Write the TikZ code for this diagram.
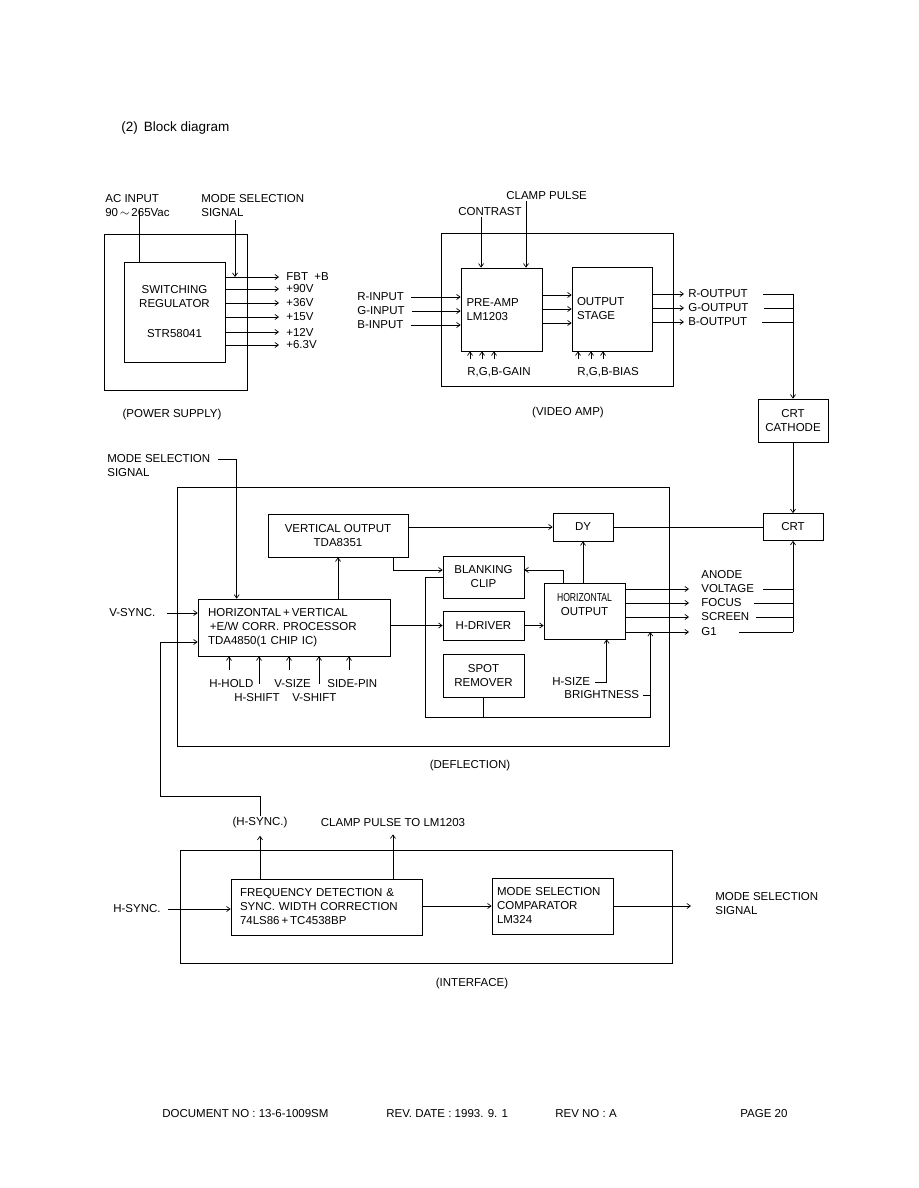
\documentclass[tikz,border=0pt]{standalone}
\usepackage{fontspec}
\setmainfont{Liberation Sans}
\usepackage{graphicx}
\usetikzlibrary{calc, positioning}
\usetikzlibrary{arrows.meta}

\begin{document}
\begin{tikzpicture}[x=1pt, y=-1pt, line width=0.7pt,
	font=\fontsize{11.5}{14}\selectfont,
	>={Straight Barb[length=3.5pt,width=5pt]},
	blk/.style={draw, inner sep=0pt, align=center},
	lblk/.style={draw, inner ysep=0pt, align=left},
	lbl/.style={inner sep=1pt, anchor=west, align=left},
	capt/.style={inner sep=1pt}]
	\fill[white] (0,0) rectangle (918,1188);
	\useasboundingbox (0,0) rectangle (918,1188);
	
	\node[lbl, font=\fontsize{13.5}{15}\selectfont] (title) at (120,128) {(2)\hspace{6pt}Block diagram};
	
	% power supply
	\draw (104,234) rectangle (247,390);
	\node[blk, minimum width=101, minimum height=100] (swreg) at (174.5,312) {SWITCHING\\REGULATOR\\[16pt]STR58041};
	\node[lbl] (acin) at (104,205.5) {AC INPUT\\90$\,\sim\,$265Vac};
	\node[lbl] (psmode) at (200,205.5) {MODE SELECTION\\SIGNAL};
	\coordinate (acpt) at (139,210);
	\draw (acpt) -- (acpt |- swreg.north);
	\foreach \n/\y/\t in {fbt/277/FBT\ \ +B, p90/289/+90V, p36/303/+36V, p15/317/+15V, p12/332/+12V, p63/345/+6.3V} {
		\node[lbl] (\n) at (285,\y) {\t};
		\draw[->, shorten >=6pt] (swreg.east |- \n) -- (\n.west);
	}
	\coordinate (psmodept) at (235,220);
	\draw[->] (psmodept) -- (psmodept |- fbt);
	\node[capt] (pslabel) at (172,415) {(POWER SUPPLY)};
	
	% video amp
	\draw (441,233) rectangle (673,386);
	\node[lblk, text width=70, inner xsep=5.5, minimum height=83] (preamp) at (501.5,309.5) {PRE-AMP\\LM1203};
	\node[lblk, text width=70, inner xsep=5, minimum height=84] (outstage) at (612,309) {OUTPUT\\STAGE};
	\node[capt, anchor=east] (contrast) at (523,212) {CONTRAST};
	\node[lbl] (clamp) at (505,196) {CLAMP PULSE};
	\coordinate (ctin) at ($(preamp.north west)!0.25!(preamp.north east)$);
	\coordinate (clampin) at ($(preamp.north west)!0.8!(preamp.north east)$);
	\draw[->] (ctin |- contrast.south) -- (ctin);
	\draw[->] (clampin |- clamp.south) -- (clampin);
	\foreach \n/\y/\t in {rin/297/R-INPUT, gin/311/G-INPUT, bin/325/B-INPUT} {
		\node[lbl] (\n) at (356,\y) {\t};
		\draw[->, shorten <=6pt] (\n.east) -- (\n -| preamp.west);
	}
	\foreach \y in {295,309,323}
		\draw[->] (preamp.east |- 0,\y) -- (outstage.west |- 0,\y);
	\foreach \x in {470,482,494}
		\draw[->] (\x,359) -- (\x,359 |- preamp.south);
	\foreach \x in {578,591,603}
		\draw[->] (\x,359) -- (\x,359 |- outstage.south);
	\node[lbl] (gain) at (466,372) {R,G,B-GAIN};
	\node[lbl] (bias) at (576,372) {R,G,B-BIAS};
	\node[capt] (valabel) at (568,413) {(VIDEO AMP)};
	\node[blk, minimum width=70, minimum height=43] (cathode) at (793,420.5) {CRT\\CATHODE};
	\foreach \n/\y/\t in {rout/294/R-OUTPUT, gout/308/G-OUTPUT, bout/322/B-OUTPUT} {
		\node[lbl] (\n) at (687,\y) {\t};
		\draw[->, shorten >=3pt] (outstage.east |- \n) -- (\n.west);
		\draw[shorten <=14pt] (\n.east) -- (\n -| cathode);
	}
	\draw[->] (rout -| cathode) -- (cathode.north);
	
	% deflection
	\draw (177,487) rectangle (669,746);
	\node[lbl] (dfmode) at (106,466) {MODE SELECTION\\SIGNAL};
	\node[lblk, text width=172, inner xsep=10, minimum height=57] (proc) at (294,627.5) {HORIZONTAL\,+\,VERTICAL\\\,+E/W CORR. PROCESSOR\\TDA4850(1 CHIP IC)};
	\coordinate (dfmodept) at (218,459);
	\draw[->] (dfmodept) -| ($(proc.north west)+(39,0)$);
	\node[lbl] (vsync) at (108,613) {V-SYNC.};
	\draw[->, shorten <=10pt] (vsync.east) -- (vsync -| proc.west);
	\node[blk, minimum width=140, minimum height=43] (vout) at (338,535.5) {VERTICAL OUTPUT\\TDA8351};
	\node[blk, minimum width=60, minimum height=28] (dy) at (583,527) {DY};
	\node[blk, minimum width=81, minimum height=42] (blank) at (483.5,577) {BLANKING\\CLIP};
	\node[blk, minimum width=81, minimum height=29] (hdrv) at (483.5,625.5) {H-DRIVER};
	\node[blk, minimum width=81, minimum height=43] (spot) at (483.5,675.5) {SPOT\\REMOVER};
	\node[blk, minimum width=81, minimum height=56] (hout) at (584.5,611) {\scalebox{0.75}[1]{HORIZONTAL}\\OUTPUT\\\mbox{}};
	\node[blk, minimum width=60, minimum height=27] (crt) at (793,527) {CRT};
	\coordinate (blankin) at ($(blank.west)+(0,-7)$);
	\draw[->] (proc.north -| vout) -- (vout.south);
	\draw[->] (vout.east |- dy) -- (dy.west);
	\draw[->] ($(vout.south east)+(-15,0)$) |- (blankin);
	\draw[->] ($(hout.north west)+(20,0)$) |- (blank.east |- blankin);
	\draw[->] (hout.north -| dy) -- (dy.south);
	\draw[->] (proc.east |- hdrv) -- (hdrv.west);
	\draw[->] (hdrv.east) -- (hdrv.east -| hout.west);
	\draw (dy.east) -- (crt.west);
	\draw[->] (cathode.south) -- (crt.north);
	\node[lbl] (anode) at (700,575) {ANODE};
	\foreach \n/\y/\t/\s in {volt/589/VOLTAGE/8pt, focus/603/FOCUS/11pt, screen/617/SCREEN/5pt, g1/632/G1/21pt} {
		\node[lbl] (\n) at (700,\y) {\t};
		\draw[->, shorten >=11pt] (hout.east |- \n) -- (\n.west);
		\draw[shorten <=\s] (\n.east) -- (\n -| crt);
	}
	\draw[->] (g1 -| crt) -- (crt.south);
	\node[lbl] (hsize) at (551,682) {H-SIZE};
	\node[lbl] (bright) at (563,695) {BRIGHTNESS};
	\coordinate (g1pt) at ($(hout.east |- g1)+(25,0)$);
	\coordinate (loopsw) at (425,717);
	\draw[->, shorten <=4pt] (hsize.east) -| ($(hout.south west)+(63,0)$);
	\draw[->, shorten <=3pt] (bright.east) -| (g1pt);
	\draw (blank.west) -| (loopsw) -| (g1pt |- bright);
	\draw (spot.south) -- (spot.south |- loopsw);
	\foreach \x/\y in {229/670, 259/684, 289/670, 319/684, 349/670}
		\draw[->] (\x,\y) -- (\x,\y |- proc.south);
	\node[lbl] (hhold) at (208,684) {H-HOLD};
	\node[lbl] (vsize) at (273,684) {V-SIZE};
	\node[lbl] (sidepin) at (326,684) {SIDE-PIN};
	\node[lbl] (hshift) at (233,698) {H-SHIFT};
	\node[lbl] (vshift) at (291,698) {V-SHIFT};
	\node[capt] (dflabel) at (470,766) {(DEFLECTION)};
	
	% interface
	\draw (180,850) rectangle (672,963);
	\node[lblk, text width=173, inner xsep=9, minimum height=56] (freq) at (326.5,907) {FREQUENCY DETECTION \&\\SYNC. WIDTH CORRECTION\\74LS86\,+\,TC4538BP};
	\node[lblk, text width=111, inner xsep=5, minimum height=56] (comp) at (552.5,906) {MODE SELECTION\\COMPARATOR\\LM324};
	\node[capt] (hsyncout) at (260,823) {(H-SYNC.)};
	\node[capt] (clamplm) at (393,823) {CLAMP PULSE TO LM1203};
	\node[lbl] (hsync) at (112,909) {H-SYNC.};
	\node[lbl] (modeout) at (714,904) {MODE SELECTION\\SIGNAL};
	\coordinate (hsyncin) at (160,642);
	\coordinate (hsyncbend) at (260,796);
	\draw[->] (hsyncout.north) -- (hsyncbend) -| (hsyncin) -- (hsyncin -| proc.west);
	\draw[->, shorten >=6pt] (freq.north -| hsyncout) -- (hsyncout.south);
	\draw[->, shorten >=6pt] (freq.north -| clamplm) -- (clamplm.south);
	\draw[->, shorten <=6pt] (hsync.east) -- (hsync -| freq.west);
	\draw[->] (freq.east |- comp) -- (comp.west);
	\draw[->, shorten >=23pt] (comp.east) -- (comp.east -| modeout.west);
	\node[capt] (iflabel) at (472,984) {(INTERFACE)};
	
	% footer
	\begin{scope}[font=\fontsize{11.5}{13}\selectfont]
		\node[lbl] (docno) at (161,1114) {DOCUMENT NO : 13-6-1009SM};
		\node[lbl] (revdate) at (385,1114) {REV. DATE : 1993. 9. 1};
		\node[lbl] (revno) at (554,1114) {REV NO : A};
		\node[lbl] (page) at (739,1114) {PAGE 20};
	\end{scope}
\end{tikzpicture}
\end{document}
